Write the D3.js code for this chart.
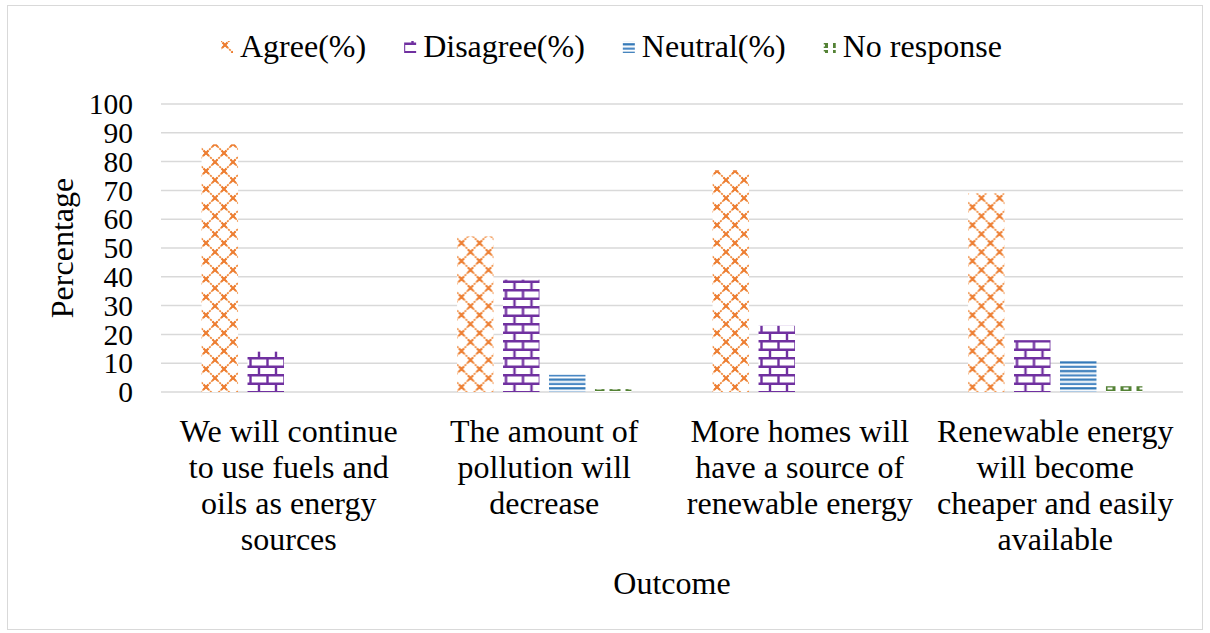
<!DOCTYPE html>
<html>
<head>
<meta charset="utf-8">
<script src="https://cdn.jsdelivr.net/npm/d3@7"></script>
<style>
  body { margin: 0; background: #fff; }
  text { font-family: "Liberation Serif", "Times New Roman", serif; fill: #000; }
</style>
</head>
<body>
<svg id="chart" width="1210" height="633"></svg>
<script>
// Survey outcomes (percent of respondents)
const categories = [
  "We will continue to use fuels and oils as energy sources",
  "The amount of pollution will decrease",
  "More homes will have a source of renewable energy",
  "Renewable energy will become cheaper and easily available"
];
const categoryLines = [
  ["We will continue", "to use fuels and", "oils as energy", "sources"],
  ["The amount of", "pollution will", "decrease"],
  ["More homes will", "have a source of", "renewable energy"],
  ["Renewable energy", "will become", "cheaper and easily", "available"]
];
const seriesNames = ["Agree(%)", "Disagree(%)", "Neutral(%)", "No response"];
const agree      = [86, 54, 77, 69];
const disagree   = [14, 39, 23, 18];
const neutral    = [0, 6, 0, 11];
const noResponse = [0, 1, 0, 2];
const yTicks = [0, 10, 20, 30, 40, 50, 60, 70, 80, 90, 100];

const seriesValues = [agree, disagree, neutral, noResponse];
const patternIds = ["pat-agree", "pat-disagree", "pat-neutral", "pat-none"];

const svg = d3.select("#chart");
const W = 1210, H = 633;
const margin = { left: 161, right: 27, top: 104, bottom: 241 };
const plotW = W - margin.left - margin.right;
const plotH = H - margin.top - margin.bottom;

// Chart frame
svg.append("rect")
  .attr("x", 7.5).attr("y", 5.5)
  .attr("width", 1195).attr("height", 624)
  .attr("fill", "#fff").attr("stroke", "#D9D9D9").attr("stroke-width", 1);

// Fill patterns
const defs = svg.append("defs");

// dotted diamond lattice
const pA = defs.append("pattern").attr("id", "pat-agree")
  .attr("patternUnits", "userSpaceOnUse").attr("width", 18).attr("height", 18);
pA.append("rect").attr("width", 18).attr("height", 18).attr("fill", "#fff");
pA.append("path").attr("d", "M0,0L18,18M18,0L0,18M-2,16L2,20M16,-2L20,2M-2,2L2,-2M16,20L20,16")
  .attr("stroke", "#F08A3C").attr("stroke-width", 1.7)
  .attr("stroke-dasharray", "2.2 0.9").attr("fill", "none");
pA.append("path").attr("d", "M6.5,6.5L11.5,11.5M11.5,6.5L6.5,11.5M0,0L2.5,2.5M18,0L15.5,2.5M0,18L2.5,15.5M18,18L15.5,15.5")
  .attr("stroke", "#ED7D31").attr("stroke-width", 1.9).attr("fill", "none");

// brick
const pB = defs.append("pattern").attr("id", "pat-disagree")
  .attr("patternUnits", "userSpaceOnUse").attr("width", 17).attr("height", 17);
pB.append("rect").attr("width", 17).attr("height", 17).attr("fill", "#fff");
pB.append("path")
  .attr("d", "M0,1.2H17M0,9.7H17M4.5,0V9.7M13,9.7V17")
  .attr("stroke", "#7030A0").attr("stroke-width", 2.4).attr("fill", "none");

// horizontal stripes
const pC = defs.append("pattern").attr("id", "pat-neutral")
  .attr("patternUnits", "userSpaceOnUse").attr("width", 8).attr("height", 8.6);
pC.append("rect").attr("width", 8).attr("height", 8.6).attr("fill", "#fff");
pC.append("rect").attr("y", 0.2).attr("width", 8).attr("height", 2.2).attr("fill", "#2E75B6");
pC.append("rect").attr("y", 4.5).attr("width", 8).attr("height", 2.2).attr("fill", "#4A88C4");

// small boxes
const pD = defs.append("pattern").attr("id", "pat-none")
  .attr("patternUnits", "userSpaceOnUse").attr("width", 16).attr("height", 7);
pD.append("rect").attr("width", 16).attr("height", 7).attr("fill", "#fff");
pD.append("rect").attr("x", 1).attr("y", 1).attr("width", 11).attr("height", 5)
  .attr("fill", "#548235");
pD.append("rect").attr("x", 4).attr("y", 2.5).attr("width", 5).attr("height", 2)
  .attr("fill", "#fff");

// Scales
const x0 = d3.scaleBand().domain(categories).range([margin.left, margin.left + plotW]).padding(0);
const x1 = d3.scaleBand().domain(seriesNames).range([0, x0.bandwidth()])
  .paddingInner(0.2065).paddingOuter(0.883);
const y = d3.scaleLinear().domain([0, 100]).range([margin.top + plotH, margin.top]);

// Gridlines
const grid = svg.append("g").attr("class", "grid");
grid.selectAll("line").data(yTicks).join("line")
  .attr("x1", margin.left).attr("x2", margin.left + plotW)
  .attr("y1", d => y(d)).attr("y2", d => y(d))
  .attr("stroke", "#D9D9D9").attr("stroke-width", 1.5);

// Y axis labels
const yAxis = d3.axisLeft(y).tickValues(yTicks).tickSize(0).tickPadding(0);
const yg = svg.append("g").attr("transform", `translate(${margin.left - 28},0)`).call(yAxis);
yg.select(".domain").remove();
yg.selectAll("text")
  .attr("font-family", '"Liberation Serif", "Times New Roman", serif')
  .attr("font-size", 29.5).attr("fill", "#000").attr("dy", "0.33em");

// Bars
const groups = svg.append("g").selectAll("g").data(categories).join("g")
  .attr("transform", d => `translate(${x0(d)},0)`);
groups.selectAll("rect")
  .data((c, ci) => seriesNames.map((s, si) => ({ s, si, v: seriesValues[si][ci] })))
  .join("rect")
  .filter(d => d.v > 0)
  .attr("x", d => x1(d.s))
  .attr("width", x1.bandwidth())
  .attr("y", d => y(d.v))
  .attr("height", d => y(0) - y(d.v))
  .attr("fill", d => `url(#${patternIds[d.si]})`);

// Category labels
const xg = svg.append("g");
categories.forEach((c, ci) => {
  const t = xg.append("text")
    .attr("x", x0(c) + x0.bandwidth() / 2)
    .attr("text-anchor", "middle").attr("font-size", 32);
  categoryLines[ci].forEach((line, li) => {
    t.append("tspan").attr("x", x0(c) + x0.bandwidth() / 2)
      .attr("y", 442 + li * 36).text(line);
  });
});

// Axis titles
svg.append("text")
  .attr("x", margin.left + plotW / 2).attr("y", 594)
  .attr("text-anchor", "middle").attr("font-size", 32).text("Outcome");
svg.append("text")
  .attr("transform", `translate(73,${margin.top + plotH / 2}) rotate(-90)`)
  .attr("text-anchor", "middle").attr("font-size", 32).text("Percentage");

// Legend
const legend = svg.append("g");
let lx = 221;
seriesNames.forEach((name, i) => {
  legend.append("rect")
    .attr("x", lx).attr("y", 41).attr("width", 12).attr("height", 12)
    .attr("fill", `url(#${patternIds[i]})`);
  const t = legend.append("text")
    .attr("x", lx + 19).attr("y", 57).attr("font-size", 32).text(name);
  lx += 19 + t.node().getComputedTextLength() + 38;
});
</script>
</body>
</html>
